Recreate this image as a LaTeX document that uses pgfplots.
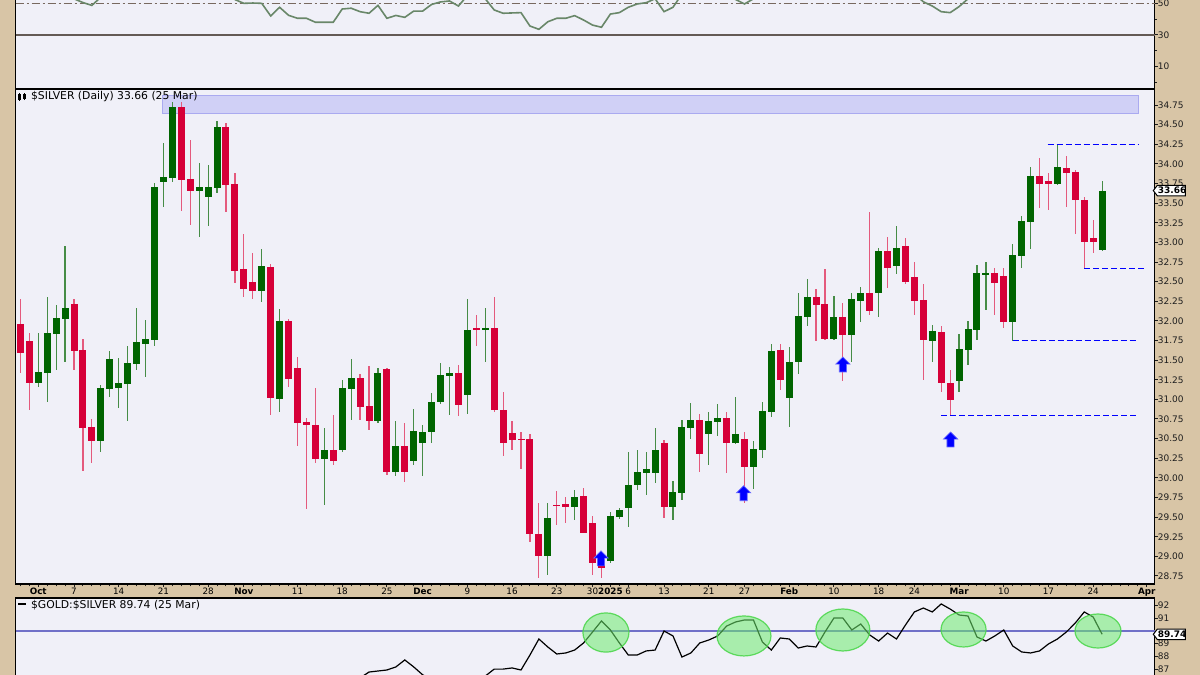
\documentclass[border=0pt]{standalone}
\usepackage{pgfplots}
\pgfplotsset{compat=1.18}
\usepackage{pgfplotstable}
\usepackage{fontspec}
\setmainfont{DejaVu Sans}
\definecolor{tanbg}{RGB}{216,197,166}
\definecolor{plotbg}{RGB}{240,240,248}
\definecolor{cgreen}{RGB}{0,100,0}
\definecolor{cred}{RGB}{214,0,56}
\definecolor{wgreen}{RGB}{70,140,70}
\definecolor{wred}{RGB}{228,90,125}
\definecolor{rsic}{RGB}{105,135,105}
\definecolor{refthirty}{RGB}{100,90,85}
\definecolor{reffifty}{RGB}{120,105,95}
\definecolor{ratioblue}{RGB}{112,112,200}
\definecolor{zone}{RGB}{208,208,246}
\definecolor{zoneb}{RGB}{170,170,240}
\definecolor{ell}{RGB}{110,235,110}
\definecolor{ellb}{RGB}{80,215,80}
\definecolor{tickc}{RGB}{30,30,30}
\definecolor{arrowblue}{RGB}{0,0,255}
\newcommand\tfs{\fontsize{4.5bp}{5.4bp}\selectfont}
\newcommand\xfs{\fontsize{4.4bp}{5.3bp}\selectfont}
\newcommand\ttl{\fontsize{5.4bp}{6.4bp}\selectfont}

\pgfplotstableread{
i O H L C
-6 31.96 32.28 31.34 31.59
-5 31.74 31.85 30.86 31.21
-4 31.21 31.85 31.16 31.35
-3 31.33 32.30 30.97 31.85
-2 31.83 32.20 31.38 32.04
-1 32.02 32.95 31.47 32.17
0 32.21 32.28 31.38 31.62
1 31.63 31.77 30.09 30.63
2 30.65 30.75 30.19 30.47
3 30.47 31.18 30.33 31.14
4 31.13 31.62 31.03 31.52
5 31.14 31.53 30.89 31.21
6 31.20 31.68 30.73 31.46
7 31.45 32.17 31.38 31.73
8 31.71 32.01 31.29 31.77
9 31.76 33.76 31.68 33.70
10 33.77 34.26 33.45 33.83
11 33.82 34.79 33.77 34.72
12 34.72 34.79 33.40 33.80
13 33.81 34.30 33.22 33.65
14 33.65 34.01 33.07 33.70
15 33.58 33.99 33.21 33.70
16 33.69 34.54 33.63 34.47
17 34.47 34.52 33.39 33.73
18 33.74 33.89 32.48 32.64
19 32.66 33.11 32.31 32.41
20 32.49 32.86 32.28 32.38
21 32.38 32.91 32.24 32.70
22 32.69 32.72 30.80 31.02
23 31.00 32.15 30.84 32.00
24 32.00 32.02 31.16 31.26
25 31.40 31.54 30.40 30.70
26 30.71 30.76 29.60 30.67
27 30.68 31.14 30.19 30.24
28 30.24 30.63 29.65 30.35
29 30.35 30.80 30.16 30.21
30 30.36 31.25 30.33 31.15
31 31.13 31.52 30.74 31.27
32 31.27 31.32 30.74 30.90
33 30.91 31.42 30.61 30.72
34 30.72 31.40 30.70 31.33
35 31.39 31.40 30.04 30.08
36 30.08 30.72 30.02 30.40
37 30.40 30.70 29.95 30.08
38 30.22 30.88 30.17 30.60
39 30.45 30.67 30.02 30.58
40 30.58 31.08 30.44 30.97
41 30.97 31.46 30.94 31.31
42 31.30 31.41 30.80 31.34
43 31.34 31.44 30.79 30.93
44 31.06 32.28 30.82 31.89
45 31.91 32.08 31.68 31.88
46 31.88 32.17 31.47 31.91
47 31.91 32.31 30.84 30.87
48 30.87 31.09 30.28 30.44
49 30.57 30.73 30.36 30.48
50 30.50 30.58 30.11 30.48
51 30.50 30.56 29.18 29.29
52 29.29 29.68 28.72 29.00
53 29.00 29.68 28.76 29.49
54 29.66 29.83 29.40 29.64
55 29.67 29.76 29.43 29.63
56 29.63 29.85 29.46 29.75
57 29.77 29.87 29.30 29.30
58 29.43 29.51 28.76 28.91
59 28.89 28.95 28.73 28.85
60 28.94 29.57 28.92 29.51
61 29.50 29.61 29.47 29.59
62 29.61 30.33 29.37 29.91
63 29.91 30.36 29.85 30.07
64 30.06 30.33 29.78 30.11
65 30.06 30.63 29.94 30.36
66 30.44 30.48 29.49 29.63
67 29.63 29.96 29.46 29.82
68 29.81 30.74 29.72 30.65
69 30.64 30.95 30.49 30.74
70 30.74 30.81 30.08 30.31
71 30.56 30.84 30.17 30.73
72 30.71 30.94 30.53 30.76
73 30.76 30.84 30.06 30.44
74 30.44 31.03 30.43 30.56
75 30.50 30.58 29.68 30.14
76 30.14 30.47 29.86 30.37
77 30.36 30.97 30.25 30.85
78 30.84 31.71 30.78 31.62
79 31.63 31.71 31.12 31.25
80 31.02 31.67 30.65 31.48
81 31.47 32.36 31.32 32.06
82 32.05 32.53 31.93 32.30
83 32.31 32.40 31.74 32.20
84 32.21 32.66 31.76 31.77
85 31.77 32.32 31.76 32.05
86 32.05 32.23 31.23 31.82
87 31.82 32.36 31.48 32.28
88 32.25 32.43 31.98 32.36
89 32.35 33.39 32.08 32.12
90 32.36 32.93 32.05 32.89
91 32.89 33.07 32.42 32.68
92 32.70 33.21 32.60 32.93
93 32.95 33.06 32.47 32.49
94 32.56 32.75 32.08 32.25
95 32.26 32.47 31.25 31.76
96 31.74 31.95 31.47 31.87
97 31.86 31.93 31.10 31.21
98 31.21 31.38 30.80 30.99
99 31.23 31.83 31.10 31.64
100 31.63 32.00 31.44 31.90
101 31.89 32.71 31.76 32.61
102 32.59 32.75 32.14 32.61
103 32.61 32.67 32.08 32.48
104 32.57 32.67 31.91 31.99
105 31.99 32.98 31.75 32.84
106 32.83 33.33 32.68 33.27
107 33.26 33.96 32.91 33.85
108 33.85 34.07 33.44 33.75
109 33.78 33.88 33.41 33.74
110 33.74 34.25 33.73 33.96
111 33.95 34.10 33.45 33.89
112 33.90 33.92 33.11 33.54
113 33.54 33.58 32.67 33.00
114 33.06 33.29 32.87 33.00
115 32.90 33.78 32.89 33.66
}\candles

\pgfplotstableread{
i v
-6 58
-5 56
-4 55
-3 56
-2 57
-1 58
0 53
1 50.6
2 48.8
3 54
4 57
5 56
6 57
7 59
8 59
9 68
10 69
11 74
12 70
13 68
14 68
15 67
16 71
17 65
18 52.5
19 50.1
20 50.3
21 50.1
22 42.1
23 47.6
24 42.5
25 40.6
26 40.6
27 38.1
28 38.1
29 38.1
30 46.5
31 47.0
32 44.8
33 43.8
34 48.8
35 40.6
36 42.4
37 41.2
38 45.2
39 45.2
40 49.4
41 51.0
42 51.6
43 48.4
44 55
45 55
46 53
47 45.9
48 43.8
49 44.0
50 44.2
51 35.7
52 33.6
53 38.4
54 40.6
55 40.6
56 42.3
57 39.5
58 36.3
59 34.9
60 43.3
61 44.2
62 47.6
63 49.7
64 50.5
65 53
66 44.8
67 47.6
68 56
69 58
70 53
71 56
72 57
73 55
74 52.6
75 49.7
76 53
77 58
78 62
79 60
80 61
81 64
82 66
83 64
84 60
85 62
86 60
87 63
88 64
89 62
90 65
91 63
92 64
93 61
94 56
95 51.1
96 48.4
97 44.8
98 44.2
99 48
100 53
101 58
102 58
103 57
104 54
105 60
106 64
107 68
108 66
109 66
110 68
111 66
112 60
113 55
114 55
115 60
}\rsi

\pgfplotstableread{
i v
32 86.30
33 86.77
34 86.85
35 86.93
36 87.17
37 87.72
38 87.17
39 86.55
40 86.20
41 86.10
42 86.00
43 86.10
44 86.20
45 86.30
46 86.45
47 87.00
48 87.00
49 87.09
50 86.93
51 88.11
52 89.37
53 88.74
54 88.19
55 88.27
56 88.50
57 89.06
58 89.92
59 90.79
60 90.08
61 89.06
62 88.11
63 88.11
64 88.43
65 88.50
66 90.00
67 89.61
68 87.95
69 88.27
70 89.06
71 89.29
72 89.61
73 90.39
74 90.71
75 90.87
76 90.87
77 89.13
78 88.50
79 89.45
80 89.37
81 88.66
82 88.82
83 88.74
84 89.92
85 91.02
86 91.02
87 90.08
88 90.55
89 89.69
90 89.21
91 89.84
92 89.37
93 90.47
94 91.50
95 91.81
96 91.50
97 92.13
98 91.73
99 91.26
100 91.18
101 89.53
102 89.21
103 89.61
104 90.08
105 88.82
106 88.35
107 88.27
108 88.43
109 88.98
110 89.37
111 89.92
112 90.63
113 91.50
114 91.10
115 89.74
}\ratio

\newcommand{\bluearrow}[2]{%
  \filldraw[fill=arrowblue, draw=arrowblue!60!white, line width=0.3bp]
   (axis cs:#1,#2) -- ++(3.6bp,-3.6bp) -- ++(-1.8bp,0bp) -- ++(0bp,-3.9bp)
   -- ++(-3.6bp,0bp) -- ++(0bp,3.9bp) -- ++(-1.8bp,0bp) -- cycle;}

\newcommand{\valuetag}[2]{%
  \draw[fill=white, draw=black, line width=0.5bp] ([xshift=-0.6bp]axis cs:120.86,#1)
   -- ++(2bp,2.6bp) -- ++(14bp,0bp) -- ++(0bp,-5.2bp) -- ++(-14bp,0bp) -- cycle;
  \node[font=\tfs\bfseries, inner sep=0pt] at ([xshift=8.8bp]axis cs:120.86,#1) {#2};}

\pgfplotsset{
  panel/.style={
    scale only axis, width=569.5bp, xmin=-6.544, xmax=120.86,
    axis background/.style={fill=plotbg},
    axis line style={black, line width=0.6bp},
    clip=false,
    tick style={tickc, line width=0.5bp},
    tick align=outside,
    major tick length=1.5bp, minor tick length=1.2bp,
    ytick pos=right, yticklabel pos=right,
    xtick pos=bottom,
    yticklabel style={font=\tfs, text=tickc, inner sep=0pt, anchor=west},
    /pgf/number format/assume math mode=true,
  },
  candle/.style={draw=none, no markers, forget plot,
    error bars/y dir=both, error bars/y explicit, error bars/error mark=none},
  srline/.style={arrowblue, line width=0.6bp, dash pattern=on 3bp off 1.5bp},
}

\begin{document}
\begin{tikzpicture}
\path[use as bounding box] (0,0) rectangle (600bp,337.5bp);
\clip (0,0) rectangle (600bp,337.5bp);
\fill[tanbg] (0,0) rectangle (600bp,337.5bp);

% ---------- RSI panel (top, cut off) ----------
\begin{axis}[panel, at={(7.75bp,293bp)}, anchor=south west, height=64.5bp,
  ymin=-4.286, ymax=77.619, xtick=\empty,
  ytick={10,30,50}, minor ytick={0,20,40}]
\addplot[refthirty, line width=0.6bp] coordinates {(-6.544,30) (120.86,30)};
\addplot[reffifty, line width=0.6bp, dash pattern=on 4bp off 1.5bp on 1bp off 1.5bp] coordinates {(-6.544,50) (120.86,50)};
\addplot[rsic, line width=0.8bp] table[x=i, y=v] {\rsi};
\end{axis}

% ---------- main price panel ----------
\begin{axis}[panel, at={(7.75bp,45.5bp)}, anchor=south west, height=247.5bp,
  ymin=28.648, ymax=34.954,
  ytick={28.75,29,...,34.75},
  yticklabel style={/pgf/number format/.cd, fixed, fixed zerofill, precision=2},
  xtick={-4,0,5,10,15,19,25,30,35,39,44,49,54,58,60,62,66,71,75,80,85,90,94,99,104,109,114,120},
  xticklabels={\textbf{Oct},7,14,21,28,\textbf{Nov},11,18,25,\textbf{Dec},9,16,23,30,\textbf{2025},6,13,21,27,\textbf{Feb},10,18,24,\textbf{Mar},10,17,24,\textbf{Apr}},
  minor xtick={-6,-5,...,120},
  xticklabel style={font=\xfs, text=black, anchor=base, inner sep=0pt, yshift=-3.5bp}]
\draw[fill=zone, draw=zoneb, line width=0.5bp] (axis cs:9.88,34.64) rectangle (axis cs:119.05,34.874);
% wicks
\addplot[candle, restrict expr to domain={\thisrow{C}-\thisrow{O}}{0:100},
  error bars/error bar style={draw=wgreen, line width=0.6bp}]
  table[x=i, y expr={(\thisrow{H}+\thisrow{L})/2}, y error expr={(\thisrow{H}-\thisrow{L})/2}] {\candles};
\addplot[candle, restrict expr to domain={\thisrow{C}-\thisrow{O}}{-100:-0.0001},
  error bars/error bar style={draw=wred, line width=0.6bp}]
  table[x=i, y expr={(\thisrow{H}+\thisrow{L})/2}, y error expr={(\thisrow{H}-\thisrow{L})/2}] {\candles};
% bodies
\addplot[candle, restrict expr to domain={\thisrow{C}-\thisrow{O}}{0:100},
  error bars/error bar style={draw=cgreen, line width=3.5bp}]
  table[x=i, y expr={(\thisrow{O}+\thisrow{C})/2}, y error expr={max(abs(\thisrow{C}-\thisrow{O})/2,0.007)}] {\candles};
\addplot[candle, restrict expr to domain={\thisrow{C}-\thisrow{O}}{-100:-0.0001},
  error bars/error bar style={draw=cred, line width=3.5bp}]
  table[x=i, y expr={(\thisrow{O}+\thisrow{C})/2}, y error expr={max(abs(\thisrow{C}-\thisrow{O})/2,0.007)}] {\candles};
% support / resistance lines
\addplot[srline] coordinates {(108.9,34.247) (119,34.247)};
\addplot[srline] coordinates {(113,32.667) (120,32.667)};
\addplot[srline] coordinates {(105,31.75) (118.8,31.75)};
\addplot[srline] coordinates {(97,30.795) (119,30.795)};
\bluearrow{58.95}{29.07}
\bluearrow{74.9}{29.90}
\bluearrow{86}{31.54}
\bluearrow{98.05}{30.585}
\valuetag{33.66}{33.66}
\end{axis}

% ---------- gold:silver ratio panel ----------
\begin{axis}[panel, at={(7.75bp,-12.5bp)}, anchor=south west, height=51bp,
  ymin=84.567, ymax=92.598, xtick=\empty,
  ytick={87,88,89,91,92}]
\addplot[ratioblue, line width=0.8bp] coordinates {(-6.544,90) (120.86,90)};
\addplot[black, line width=0.6bp] table[x=i, y=v] {\ratio};
\filldraw[fill=ell, fill opacity=0.55, draw=ellb, draw opacity=0.9, line width=0.6bp] (axis cs:59.5,89.88) ellipse [x radius=11.5bp, y radius=9.8bp];
\filldraw[fill=ell, fill opacity=0.55, draw=ellb, draw opacity=0.9, line width=0.6bp] (axis cs:74.94,89.61) ellipse [x radius=13.5bp, y radius=10bp];
\filldraw[fill=ell, fill opacity=0.55, draw=ellb, draw opacity=0.9, line width=0.6bp] (axis cs:86.0,90.08) ellipse [x radius=13.5bp, y radius=10.5bp];
\filldraw[fill=ell, fill opacity=0.55, draw=ellb, draw opacity=0.9, line width=0.6bp] (axis cs:99.5,90.12) ellipse [x radius=11.25bp, y radius=8.75bp];
\filldraw[fill=ell, fill opacity=0.55, draw=ellb, draw opacity=0.9, line width=0.6bp] (axis cs:114.54,90.0) ellipse [x radius=11.5bp, y radius=8.5bp];
\valuetag{89.74}{89.74}
\end{axis}

% ---------- panel titles ----------
\fill[black] (9bp,287.6bp) rectangle (10.4bp,290.4bp);
\draw[black, line width=0.4bp] (9.7bp,287bp) -- (9.7bp,291bp);
\fill[black] (11.6bp,288.2bp) rectangle (13bp,290.6bp);
\draw[black, line width=0.4bp] (12.3bp,287.4bp) -- (12.3bp,291.2bp);
\node[anchor=base west, inner sep=0pt, font=\ttl] at (15.35bp,287.6bp) {\$SILVER (Daily) 33.66 (25 Mar)};
\draw[black, line width=1bp] (9bp,35.6bp) -- (13bp,35.6bp);
\node[anchor=base west, inner sep=0pt, font=\ttl] at (15.35bp,33.4bp) {\$GOLD:\$SILVER 89.74 (25 Mar)};
\end{tikzpicture}
\end{document}
